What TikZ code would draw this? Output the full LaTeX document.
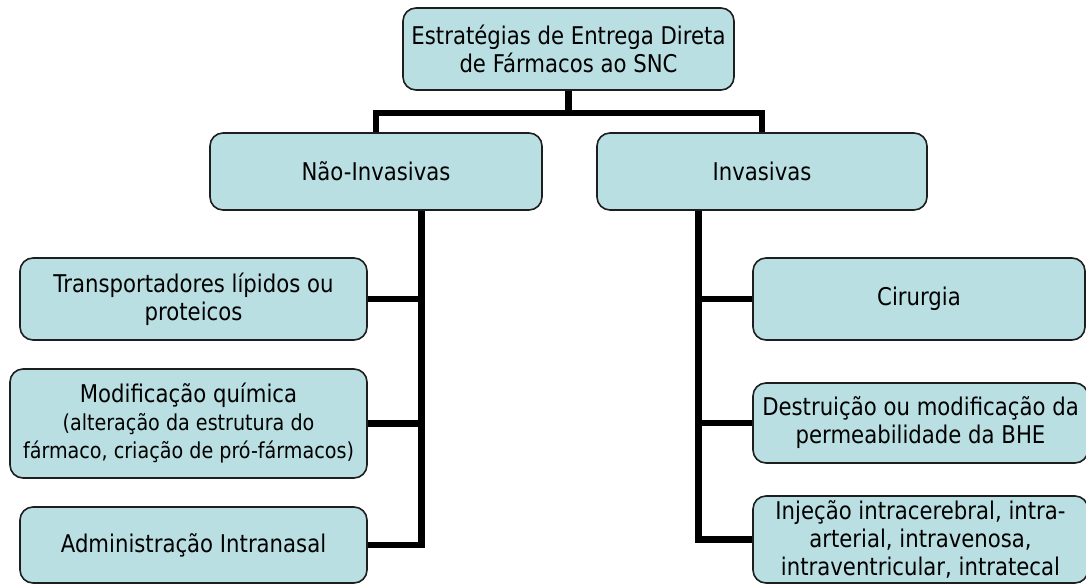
\documentclass[tikz,border=0pt]{standalone}
\usepackage{fontspec}
\setmainfont{DejaVu Sans}[FakeStretch=0.87]
\usetikzlibrary{calc}
\definecolor{boxfill}{RGB}{185,223,226}
\definecolor{boxline}{RGB}{30,30,30}
\newcommand{\smalltxt}{\fontsize{22}{27}\selectfont}
\tikzset{
  box/.style={draw=boxline, line width=1.6pt, fill=boxfill, rounded corners=13pt,
    align=center, inner sep=1pt, font=\fontsize{24.4}{28}\selectfont, text=black},
  conn/.style={line width=6.5pt, black},
}
\begin{document}
\begin{tikzpicture}[x=1pt,y=-1pt]
\useasboundingbox (0,0) rectangle (1086,584);
\node[box, minimum width=331pt, minimum height=82pt] (top) at (568.5,49) {Estratégias de Entrega Direta\\de Fármacos ao SNC};
\node[box, minimum width=332pt, minimum height=77pt] (ni) at (376,171.5) {Não-Invasivas};
\node[box, minimum width=330pt, minimum height=77pt] (inv) at (762,171.5) {Invasivas};
\node[box, minimum width=347pt, minimum height=82pt] (transp) at (193.5,299) {Transportadores lípidos ou\\proteicos};
\node[box, minimum width=357pt, minimum height=109pt] (modif) at (188.5,423.5) {Modificação química\\{\smalltxt (alteração da estrutura do}\\{\smalltxt fármaco, criação de pró-fármacos)}};
\node[box, minimum width=347pt, minimum height=76pt] (admin) at (193.5,545) {Administração Intranasal};
\node[box, minimum width=332pt, minimum height=82pt] (cir) at (919,299) {Cirurgia};
\node[box, minimum width=335pt, minimum height=80pt] (destr) at (920.5,423) {Destruição ou modificação da\\permeabilidade da BHE};
\node[box, minimum width=335pt, minimum height=87pt] (inj) at (920.5,539.5) {Injeção intracerebral, intra-\\arterial, intravenosa,\\intraventricular, intratecal};
% connectors
\coordinate (bar) at (568.5,113);
\coordinate (ltrunk) at (421.5,210);
\coordinate (rtrunk) at (698.5,210);
\draw[conn] (top.south) -- (bar);
\draw[conn] (ni.north) |- (bar) -| (inv.north);
\draw[conn] (ltrunk |- ni.south) |- (admin.east);
\draw[conn] (transp.east) -- (transp.east -| ltrunk);
\draw[conn] (modif.east) -- (modif.east -| ltrunk);
\draw[conn] (rtrunk |- inv.south) |- (inj.west);
\draw[conn] (cir.west) -- (cir.west -| rtrunk);
\draw[conn] (destr.west) -- (destr.west -| rtrunk);
\end{tikzpicture}
\end{document}
